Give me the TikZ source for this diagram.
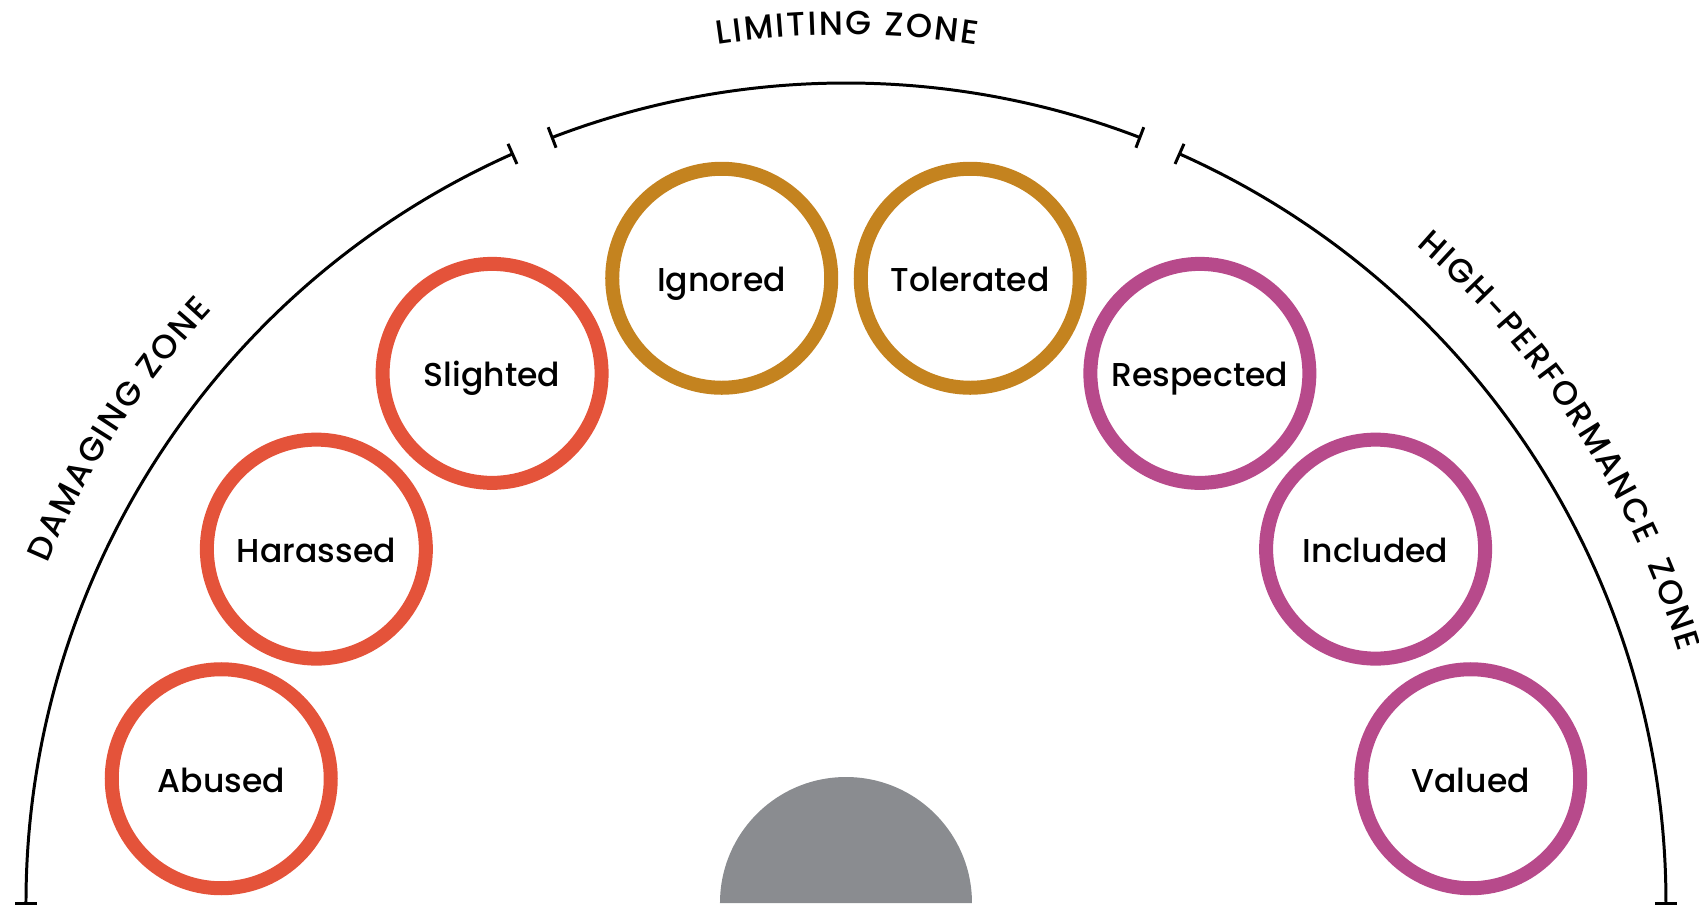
\documentclass[tikz,border=0pt]{standalone}
\usepackage{fontspec}
\setmainfont{Poppins}
\newfontfamily\medfont{Poppins Medium}
\usetikzlibrary{decorations.text}
\definecolor{dmgred}{HTML}{E4533A}
\definecolor{limgold}{HTML}{C4831F}
\definecolor{hpfpurple}{HTML}{B74A8B}
\definecolor{basegray}{HTML}{8A8C90}
\newcommand\zonefont{\medfont\fontsize{9.5}{11}\selectfont\kern0.6pt}
\begin{document}
\begin{tikzpicture}
\tikzstyle{feeling}=[draw,circle,line width=0.14cm,minimum size=2.19cm,inner sep=0pt,text height=8.6pt,text depth=1pt,font=\medfont\fontsize{9.4}{11}\selectfont]
\tikzstyle{damaging}=[feeling,draw=dmgred]
\tikzstyle{limiting}=[feeling,draw=limgold]
\tikzstyle{highperf}=[feeling,draw=hpfpurple]
\tikzstyle{zonearc}=[line width=0.85pt]
\tikzstyle{zonetext}=[decorate,decoration={text along path,text align=center}]
\useasboundingbox (-8.46,-0.02) rectangle (8.53,9.03);
% base
\fill[basegray] (-1.26,0) arc[start angle=180,end angle=0,radius=1.26cm] -- cycle;
% zone arcs
\draw[zonearc] (180:8.2cm) arc[start angle=180,end angle=114,radius=8.2cm];
\draw[zonearc] (180:8.09cm) -- (180:8.31cm);
\draw[zonearc] (114:8.09cm) -- (114:8.31cm);
\draw[zonearc] (111:8.2cm) arc[start angle=111,end angle=69,radius=8.2cm];
\draw[zonearc] (111:8.09cm) -- (111:8.31cm);
\draw[zonearc] (69:8.09cm) -- (69:8.31cm);
\draw[zonearc] (66:8.2cm) arc[start angle=66,end angle=0,radius=8.2cm];
\draw[zonearc] (66:8.09cm) -- (66:8.31cm);
\draw[zonearc] (0:8.09cm) -- (0:8.31cm);
% zone labels
\path[zonetext,decoration={text={|\zonefont|DAMAGING ZONE}}] (180:8.68cm) arc[start angle=180,end angle=114,radius=8.68cm];
\path[zonetext,decoration={text={|\zonefont|LIMITING ZONE}}] (111:8.68cm) arc[start angle=111,end angle=69,radius=8.68cm];
\path[zonetext,decoration={text={|\zonefont|HIGH-PERFORMANCE{\ \ }ZONE}}] (66:8.7cm) arc[start angle=66,end angle=0,radius=8.7cm];
% feelings
\node[damaging] (abused) at (168.75:6.37cm) {Abused};
\node[damaging] (harassed) at (146.25:6.37cm) {Harassed};
\node[damaging] (slighted) at (123.75:6.37cm) {Slighted};
\node[limiting] (ignored) at (101.25:6.37cm) {Ignored};
\node[limiting] (tolerated) at (78.75:6.37cm) {Tolerated};
\node[highperf] (respected) at (56.25:6.37cm) {Respected};
\node[highperf] (included) at (33.75:6.37cm) {Included};
\node[highperf] (valued) at (11.25:6.37cm) {Valued};
\end{tikzpicture}
\end{document}
